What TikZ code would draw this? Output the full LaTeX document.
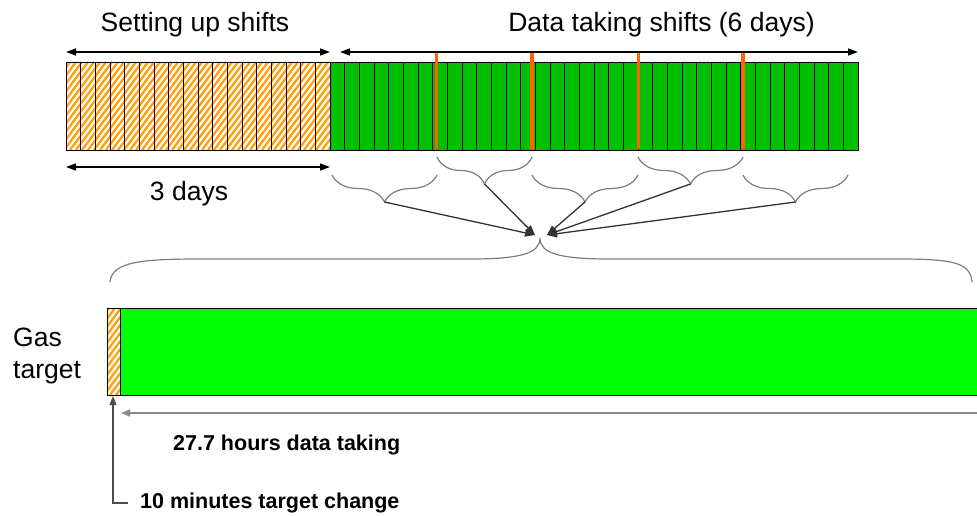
\documentclass[tikz,border=0pt]{standalone}
\usepackage{fontspec}
\setmainfont{Liberation Sans}
\usetikzlibrary{arrows.meta,decorations.pathreplacing}
\definecolor{shiftgreen}{RGB}{0,192,0}
\definecolor{gasgreen}{RGB}{0,255,0}
\definecolor{hatchorange}{RGB}{255,158,16}
\definecolor{hatchground}{RGB}{255,250,235}
\definecolor{markorange}{RGB}{255,100,0}
\definecolor{bracegray}{RGB}{125,125,125}
\definecolor{spangray}{RGB}{140,140,140}

\begin{document}
\begin{tikzpicture}[x=1pt,y=-1pt,
  span/.style={black, line width=1.4pt,
    {Triangle[length=10pt,width=7pt]}-{Triangle[length=10pt,width=7pt]}},
  bigtext/.style={font=\fontsize{26.5}{30}\selectfont, inner sep=0pt, anchor=base},
  sidetext/.style={font=\fontsize{26.5}{30}\selectfont, inner sep=0pt, anchor=base west},
  boldtext/.style={font=\fontsize{21.5}{25}\selectfont\bfseries, inner sep=0pt, anchor=base west},
  cellgrid/.style={black, line width=0.9pt},
  hatch/.style={hatchorange, line width=2.2pt},
  barframe/.style={draw=black, line width=1.1pt},
  marker/.style={markorange, line width=3.6pt},
  bracepath/.style={bracegray, line width=1.2pt},
  shiftbrace/.style={bracepath, decorate,
    decoration={brace, mirror, amplitude=27pt, aspect=0.5}},
  feed/.style={black!80, line width=1.3pt, -{Triangle[length=10pt,width=7.5pt]}},
  hourspan/.style={spangray, line width=2pt, -{Triangle[length=9pt,width=7pt]}},
  pointer/.style={black!70, line width=1.2pt, -{Triangle[length=9pt,width=7pt]}}]

\useasboundingbox (0,0) rectangle (977,516);

% ---------- shift bar: 18 setting-up shifts and 36 data-taking shifts ----------
\fill[hatchground] (66,62) rectangle (330,150);
\begin{scope}
  \clip (66,62) rectangle (330,150);
  \foreach \x in {-80,-74,...,335} \draw[hatch] (\x,150) -- ++(66,-88);
\end{scope}
\fill[shiftgreen] (330,62) rectangle (858,150);
\foreach \i in {1,...,53} \draw[cellgrid] ({66+\i*14.667},62) -- ++(0,88);
\node[barframe, minimum width=792pt, minimum height=88pt, inner sep=0pt, anchor=north west]
  (shiftbar) at (66,62) {};

% day boundaries
\foreach \x in {436.5,532,638.3,742.7} \draw[marker] (\x,53) -- (\x,149.3);

% ---------- spans over and under the bar ----------
\coordinate (setup-l) at (66,52);
\coordinate (setup-r) at (330,52);
\coordinate (data-l) at (340,52);
\coordinate (data-r) at (858,52);
\coordinate (days-l) at (66,167);
\coordinate (days-r) at (330,167);
\draw[span] (setup-l) -- (setup-r);
\draw[span] (data-l) -- (data-r);
\draw[span] (days-l) -- (days-r);

\node[bigtext] (setup-text) at (195,31.5) {Setting up shifts};
\node[bigtext] (data-text) at (661.5,31.5) {Data taking shifts (6 days)};
\node[bigtext] (days-text) at (189,200) {3 days};

% ---------- one brace per day ----------
\draw[shiftbrace] (332,175) -- (437,175);
\draw[shiftbrace] (437,157) -- (532,157);
\draw[shiftbrace] (532,175) -- (638,175);
\draw[shiftbrace] (638,157) -- (743,157);
\draw[shiftbrace] (743,175) -- (848,175);
\coordinate (day1) at (384.5,202);
\coordinate (day2) at (484.5,184);
\coordinate (day3) at (585,202);
\coordinate (day4) at (690.5,184);
\coordinate (day5) at (795.5,202);

% ---------- large brace over the gas-target bar ----------
\draw[bracepath] (110,282) .. controls (112,262) and (140,259) .. (200,259)
  -- (470,259) .. controls (522,259) and (540,253) .. (540,238)
  .. controls (540,253) and (558,259) .. (610,259)
  -- (900,259) .. controls (958,259) and (970,264) .. (972,282);
\coordinate (apex-l) at (535,235);
\coordinate (apex-r) at (547,235);

\draw[feed] (day1) -- (apex-l);
\draw[feed] (day2) -- (apex-l);
\draw[feed] (day3) -- (apex-r);
\draw[feed] (day4) -- (apex-r);
\draw[feed] (day5) -- (apex-r);

% ---------- gas-target bar ----------
\fill[hatchground] (107,308) rectangle (120,395);
\begin{scope}
  \clip (107,308) rectangle (120,395);
  \foreach \x in {-70,-64,...,125} \draw[hatch] (\x,395) -- ++(65,-87);
\end{scope}
\fill[gasgreen] (120,308) rectangle (990,395);
\node[barframe, minimum width=13pt, minimum height=87pt, inner sep=0pt, anchor=north west]
  (change) at (107,308) {};
\node[barframe, minimum width=870pt, minimum height=87pt, inner sep=0pt, anchor=north west]
  (run) at (120,308) {};

\node[sidetext] (gas) at (13,346.5) {Gas};
\node[sidetext] (target) at (13,378) {target};

% ---------- run length and target change ----------
\coordinate (run-end) at (990,413);
\coordinate (run-start) at (121,413);
\draw[hourspan] (run-end) -- (run-start);
\node[boldtext] (hours) at (173,450) {27.7 hours data taking};

\coordinate (foot) at (128,503);
\coordinate (corner) at (113,503);
\coordinate (change-tip) at (113,396);
\draw[pointer] (foot) -- (corner) -- (change-tip);
\node[boldtext] (minutes) at (140,508) {10 minutes target change};
\end{tikzpicture}
\end{document}
